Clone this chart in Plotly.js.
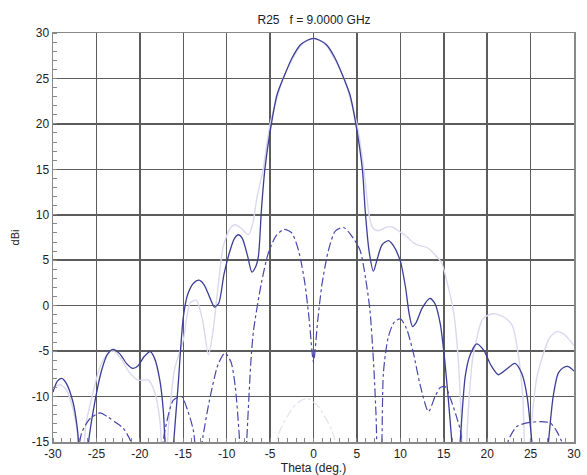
<!DOCTYPE html>
<html>
<head>
<meta charset="utf-8">
<script src="https://cdn.plot.ly/plotly-3.0.1.min.js"></script>
<style>html,body{margin:0;padding:0;background:#fff;}#chart{width:587px;height:475px;}</style>
</head>
<body>
<div id="chart"></div>
<script>
// Co-pol (dark solid)
const thetaCo = [-30,-29.5,-29,-28.5,-27.7,-27.2,-26.9,-26.4,-25.9,-25.2,-24.4,-23.7,-23.05,-22.3,-21.5,-20.8,-20.2,-19.5,-18.8,-18.3,-17.7,-17.3,-17.1,-16.6,-16.1,-15.6,-15.0,-14.5,-13.8,-13.2,-12.6,-11.9,-11.4,-10.9,-10.3,-9.6,-9.1,-8.65,-8.2,-7.6,-7.1,-6.7,-6.35,-6.0,-5.6,-4.85,-4.2,-3.36,-2.5,-1.5,-0.7,0,0.7,1.5,2.5,3.37,4.2,4.87,5.63,5.95,6.4,6.9,7.3,7.9,8.63,9.2,10.0,10.6,11.0,11.4,11.8,12.5,13.4,14.0,14.6,15.0,15.5,15.93,16.4,16.89,17.47,18.0,18.8,19.6,20.4,21.3,22.2,23.2,24.0,24.6,25.15,25.6,26.1,26.6,27.06,27.6,28.2,28.8,29.36,30];
const gainCo = [-9.5,-8.3,-8.0,-8.5,-10.6,-13.5,-17,-22,-15,-10.7,-7.1,-5.3,-4.8,-5.3,-6.4,-6.9,-6.6,-5.6,-5.06,-5.8,-8.2,-11.5,-15,-22,-15,-8.9,-1.3,1.2,2.5,2.8,2.3,0.8,-0.15,0.3,3.5,6.1,7.4,7.8,7.4,5.5,3.7,4.2,5.4,10.5,15,20,23.2,25.3,27.2,28.7,29.2,29.4,29.2,28.7,27.2,25.3,23.2,20,15,10.5,6,3.8,5.0,6.7,7.15,6.6,4.9,2.0,-0.8,-2.3,-1.9,-0.3,0.8,0.2,-2,-5,-10,-15,-22,-15,-7.8,-5.5,-4.2,-4.9,-6.5,-7.6,-7.0,-6.35,-7.5,-10,-15,-20,-24,-20,-15,-10,-7.4,-6.8,-6.7,-7.2];

// Second co-pol (faint lavender)
const thetaRef = [-30,-29.2,-28.5,-27.8,-27.2,-26.8,-26.2,-25.5,-24.5,-23.5,-23.0,-22.2,-21.3,-20.2,-19.0,-18.3,-17.7,-17.2,-16.6,-16.0,-15.0,-14.2,-13.5,-12.8,-12.1,-11.6,-11.0,-10.4,-9.6,-9.0,-8.2,-7.5,-7.0,-6.5,-5.8,-5.0,-3.5,-2.5,-1.5,-0.7,0,0.7,1.5,2.5,3.5,5.0,5.8,6.4,6.8,7.2,7.67,8.3,8.8,9.2,10.0,10.75,11.5,12.2,13.05,13.8,14.78,15.4,16.1,16.6,17.0,17.27,17.8,18.3,18.8,19.4,20.2,20.9,22.0,22.9,23.6,24.1,24.5,25.2,25.7,26.5,27.2,28.0,28.8,29.5,30];
const gainRef = [-9.0,-8.7,-9.2,-11,-14,-20,-13,-10,-6.5,-5.1,-5.0,-5.8,-7.2,-8.2,-8.2,-9.5,-12.5,-20,-12,-7,-3.8,0.3,0.6,-1.5,-5.4,-3,2,6.5,8.5,8.9,8.4,7.8,9,12,15,20,25,27,28.6,29.2,29.4,29.2,28.6,27,25,20,15,10,8.6,8.3,8.3,8.6,8.7,8.6,8.1,7.6,6.9,6.6,6.4,5.8,4.67,2.5,-0.47,-5,-12,-22,-12,-6,-3.6,-1.6,-1.0,-0.9,-1.3,-2.2,-5.5,-10,-20,-12,-8,-5.2,-3.5,-2.86,-3.1,-3.8,-4.4];

// Cross-pol (dark dash-dot)
const thetaX = [-27.2,-26.7,-25.8,-24.6,-23.6,-22.7,-21.9,-21.1,-20.5,-19.0,-17.6,-17.1,-16.14,-15.2,-14.5,-13.84,-13.3,-12.75,-12.0,-11.0,-10.2,-9.5,-9.0,-8.5,-8.1,-7.7,-7.2,-6.9,-6.0,-5.2,-4.3,-3.4,-2.5,-1.7,-1.0,-0.5,0,0.5,1.0,1.7,2.5,3.45,4.3,5.36,6.0,6.5,6.9,7.2,7.5,7.87,8.05,8.6,9.3,10.0,10.7,11.5,12.3,13.24,14.0,14.6,15.16,15.8,16.4,16.9,17.3,18.5,20.0,22.2,22.45,23.4,24.57,26.1,27.26,28.0,28.6,29.0];
const gainX = [-17,-14.0,-12.5,-11.8,-12.3,-12.9,-13.5,-14.8,-17,-30,-17,-13.7,-10.4,-10.0,-11.5,-13.7,-18,-14.5,-10.5,-6.5,-5.2,-6.2,-9,-15,-22,-15,-6,-2.7,2.5,5.8,7.7,8.4,8.0,6,2.5,-1.5,-6.2,-1.5,2.5,6,8.2,8.6,7.8,6.1,3,-0.5,-6,-12,-22,-15,-7.4,-3.5,-1.8,-1.46,-2.5,-5.2,-8.8,-11.66,-10,-9,-8.9,-10.3,-12,-13.7,-17,-30,-30,-16,-14.8,-13.3,-12.9,-12.75,-12.9,-13.8,-15,-17];

// Second cross-pol (faint dash-dot)
const thetaX2 = [-4.5,-3.85,-2.1,-0.8,0.56,2.1,2.8];
const gainX2 = [-16,-13.7,-10.9,-10.2,-11.1,-13.7,-16];

const xTicks = [-30,-25,-20,-15,-10,-5,0,5,10,15,20,25,30];
const yTicks = [-15,-10,-5,0,5,10,15,20,25,30];

const FONT = 'Liberation Sans, Arial, sans-serif';

const traces = [
  {x: thetaRef, y: gainRef, mode:'lines', line:{color:'rgb(218,216,240)', width:1.4, shape:'spline', smoothing:0.7}, hoverinfo:'skip'},
  {x: thetaX2, y: gainX2, mode:'lines', line:{color:'rgb(225,225,242)', width:1.2, dash:'dashdot', shape:'spline', smoothing:0.7}, hoverinfo:'skip'},
  {x: thetaX, y: gainX, mode:'lines', line:{color:'rgb(70,72,170)', width:1.2, dash:'dashdot', shape:'spline', smoothing:0.7}, hoverinfo:'skip'},
  {x: thetaCo, y: gainCo, mode:'lines', line:{color:'rgb(60,62,150)', width:1.3, shape:'spline', smoothing:0.7}, hoverinfo:'skip'}
];

const axisCommon = {
  showline:true, linecolor:'#888', linewidth:1.5, mirror:true,
  showgrid:true, gridcolor:'#5c5c5c', gridwidth:1.5,
  zeroline:false, ticks:'',
  tickfont:{family:FONT, size:12, color:'#222'},
  minor:{dtick:1, ticks:'inside', ticklen:4, tickcolor:'#888', showgrid:false}
};

const layout = {
  width:587, height:475,
  margin:{l:53, r:13, t:33, b:33},
  paper_bgcolor:'#fff', plot_bgcolor:'#fff',
  showlegend:false,
  title:{text:'R25   f = 9.0000 GHz', x:0.535, xanchor:'center', y:0.958, yanchor:'middle', font:{family:FONT, size:12, color:'#222'}},
  xaxis: Object.assign({}, axisCommon, {range:[-30,30], tickvals:xTicks, ticktext:xTicks.map(String),
    title:{text:'Theta (deg.)', standoff:1, font:{family:FONT, size:12, color:'#222'}}}),
  yaxis: Object.assign({}, axisCommon, {range:[-15,30], tickvals:yTicks, ticktext:yTicks.map(String),
    title:{text:'dBi', standoff:10, font:{family:FONT, size:11, color:'#222'}}})
};

Plotly.newPlot('chart', traces, layout, {displayModeBar:false, staticPlot:true});
</script>
</body>
</html>
